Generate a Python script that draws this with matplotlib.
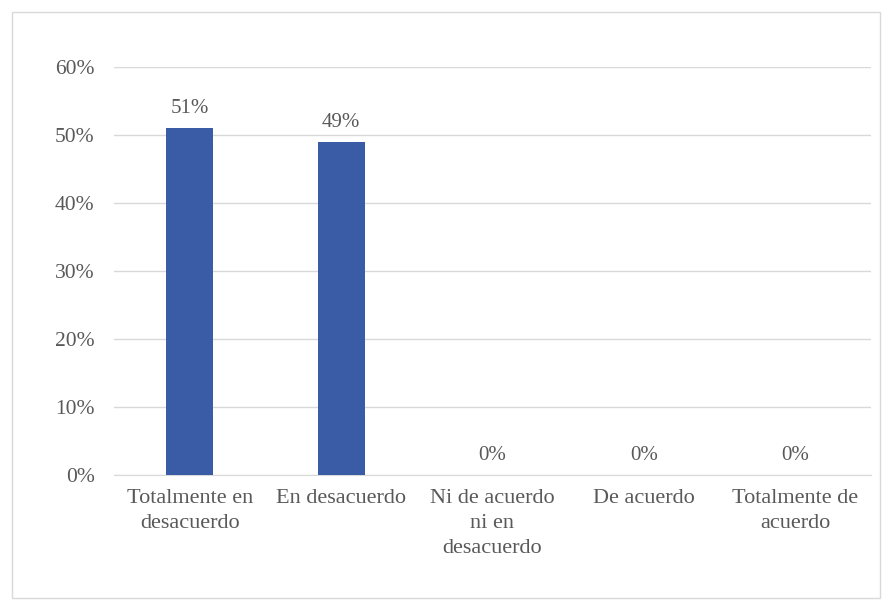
import matplotlib
matplotlib.use("Agg")
import matplotlib.pyplot as plt
from matplotlib.patches import Rectangle

categories = ["Totalmente en\ndesacuerdo", "En desacuerdo", "Ni de acuerdo\nni en\ndesacuerdo",
              "De acuerdo", "Totalmente de\nacuerdo"]
values = [0.51, 0.49, 0.0, 0.0, 0.0]
value_labels = ["51%", "49%", "0%", "0%", "0%"]
yticks = [0, 0.1, 0.2, 0.3, 0.4, 0.5, 0.6]
ytick_labels = ["0%", "10%", "20%", "30%", "40%", "50%", "60%"]

plt.rcParams['font.family'] = ['Liberation Serif', 'DejaVu Serif']
txt = '#595959'

fig = plt.figure(figsize=(8.82, 6.0), dpi=100)
fig.patches.append(Rectangle((12/882, 2/600), 868/882, 586/600, transform=fig.transFigure,
                             fill=False, edgecolor='#D9D9D9', linewidth=1.0))
ax = fig.add_axes([114/882, 1 - 475/600, 757/882, 408/600])
x = list(range(len(categories)))
ax.bar(x, values, width=0.31, color='#3A5BA5', zorder=3)
ax.set_xlim(-0.5, len(categories) - 0.5)
ax.set_ylim(0, 0.6)
ax.set_yticks(yticks)
ax.set_yticklabels(ytick_labels, color=txt, fontsize=15.5)
ax.set_xticks(x)
ax.set_xticklabels(categories, color=txt, fontsize=16, linespacing=1.45)
ax.tick_params(axis='y', length=0, pad=14)
ax.tick_params(axis='x', length=0, pad=10)
ax.grid(axis='y', color='#D9D9D9', linewidth=1.0, zorder=0)
for s in ['top', 'right', 'left']:
    ax.spines[s].set_visible(False)
ax.spines['bottom'].set_color('#D9D9D9')
for xi, v, lab in zip(x, values, value_labels):
    ax.annotate(lab, (xi, v), xytext=(0, 7), textcoords='offset points',
                ha='center', va='bottom', color=txt, fontsize=15)
fig.savefig('out.png', dpi=100)
